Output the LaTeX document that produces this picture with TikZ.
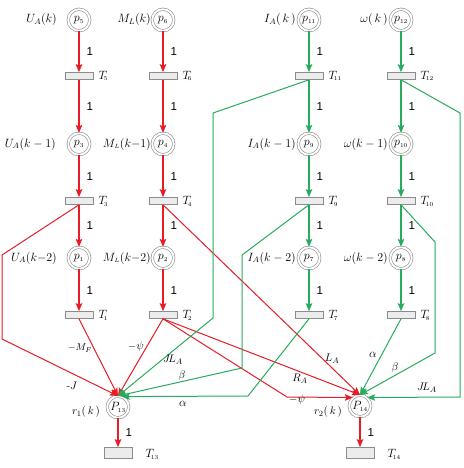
\documentclass[tikz,border=0pt]{standalone}
\usepackage{fontspec}
\newfontfamily\arialf{Liberation Sans}
\usetikzlibrary{arrows.meta,calc}
\definecolor{rd}{RGB}{232,28,36}
\definecolor{gn}{RGB}{38,172,92}
\definecolor{bd}{RGB}{140,140,140}
\begin{document}
\begin{tikzpicture}[x=1pt,y=-1pt,
  place/.style={circle,draw=bd,line width=0.6pt,double=white,double distance=1.9pt,minimum size=21.5pt,inner sep=0pt,font=\fontsize{11.5}{13}\selectfont},
  trans/.style={rectangle,draw=bd,fill=gray!15,line width=0.6pt,minimum width=28pt,minimum height=7pt,inner sep=0pt},
  btrans/.style={trans,minimum height=11pt},
  tip/.style={-{Stealth[length=8pt,width=6.5pt,inset=1.5pt]}},
  rarr/.style={draw=rd,line width=1.3pt,tip},
  garr/.style={draw=gn,line width=1.3pt,tip},
  rln/.style={draw=rd,line width=1pt,tip},
  gln/.style={draw=gn,line width=1pt,tip},
  one/.style={right=7pt,inner sep=0pt,font=\arialf\fontsize{11.5}{13}\selectfont},
  nm/.style={anchor=east,inner sep=0pt,font=\fontsize{11.5}{13}\selectfont},
  tl/.style={anchor=west,inner sep=0pt,font=\fontsize{11.5}{13}\selectfont},
  el/.style={inner sep=0pt,font=\fontsize{11}{13}\selectfont}
]
\useasboundingbox (0,0) rectangle (463,468);
% places
\node[place] (p5) at (79,20) {$p_{\scriptscriptstyle 5}$};
\node[place] (p6) at (163,20) {$p_{\scriptscriptstyle 6}$};
\node[place] (p11) at (309,20) {$p_{\scriptscriptstyle 11}$};
\node[place] (p12) at (401,20) {$p_{\scriptscriptstyle 12}$};
\node[place] (p3) at (79,144) {$p_{\scriptscriptstyle 3}$};
\node[place] (p4) at (163,144) {$p_{\scriptscriptstyle 4}$};
\node[place] (p9) at (309,144) {$p_{\scriptscriptstyle 9}$};
\node[place] (p10) at (401,144) {$p_{\scriptscriptstyle 10}$};
\node[place] (p1) at (79,258) {$p_{\scriptscriptstyle 1}$};
\node[place] (p2) at (163,258) {$p_{\scriptscriptstyle 2}$};
\node[place] (p7) at (309,258) {$p_{\scriptscriptstyle 7}$};
\node[place] (p8) at (401,258) {$p_{\scriptscriptstyle 8}$};
\node[place] (P13) at (118,407) {$P_{\scriptscriptstyle 13}$};
\node[place] (P14) at (360,406) {$P_{\scriptscriptstyle 14}$};
% transitions
\node[trans] (T5) at (79,76) {};
\node[trans] (T6) at (163,76) {};
\node[trans] (T11) at (309,76) {};
\node[trans] (T12) at (401,76) {};
\node[trans] (T3) at (79,201) {};
\node[trans] (T4) at (163,201) {};
\node[trans] (T9) at (309,201) {};
\node[trans] (T10) at (401,201) {};
\node[trans] (T1) at (79,315) {};
\node[trans] (T2) at (163,315) {};
\node[trans] (T7) at (309,315) {};
\node[trans] (T8) at (401,315) {};
\node[btrans] (T13) at (118,453) {};
\node[btrans] (T14) at (360,453) {};
% transition labels
\foreach \t/\s in {T5/5,T6/6,T11/11,T12/12,T3/3,T4/4,T9/9,T10/10,T1/1,T2/2,T7/7,T8/8}
  \node[tl] (l\t) at ($(\t.east)+(5,0)$) {$T_{\!\scriptscriptstyle \s}$};
\node[tl] (lT13) at ($(T13.east)+(13,1)$) {$T_{\!\scriptscriptstyle 13}$};
\node[tl] (lT14) at ($(T14.east)+(13,1)$) {$T_{\!\scriptscriptstyle 14}$};
% place labels
\node[nm] (n5) at (57,20) {$U_A(k)$};
\node[nm] (n6) at (151,20) {$M_L(k)$};
\node[nm] (n11) at (296,20) {$I_A(\,k\,)$};
\node[nm] (n12) at (388,20) {$\omega(\,k\,)$};
\node[nm] (n3) at (56,144) {$U_A(k-1)$};
\node[nm] (n4) at (151,144) {$M_{\scriptscriptstyle L}(k{-}1)$};
\node[nm] (n9) at (296,144) {$I_A(k-1)$};
\node[nm] (n10) at (388,144) {$\omega(k-1)$};
\node[nm] (n1) at (57,258) {$U_A(k{-}2)$};
\node[nm] (n2) at (151,258) {$M_{\scriptscriptstyle L}(k{-}2)$};
\node[nm] (n7) at (296,258) {$I_A(k-2)$};
\node[nm] (n8) at (388,258) {$\omega(k-2)$};
\node[el] (r1) at (86,412) {$r_1(\,k\,)$};
\node[el] (r2) at (328,412) {$r_2(\,k\,)$};
% bend points
\coordinate (c3a) at (2,255);
\coordinate (c3b) at (2,339);
\coordinate (c11a) at (213,113);
\coordinate (c11b) at (213,318);
\coordinate (c9a) at (242,255);
\coordinate (c9b) at (242,368);
\coordinate (c7) at (248,396);
\coordinate (c10a) at (435,242);
\coordinate (c10b) at (435,353);
\coordinate (c12a) at (460,113);
\coordinate (c12b) at (460,397);
\coordinate (c2) at (287,397);
% vertical chains
\foreach \a/\b/\c/\d/\e/\f in {p5/T5/p3/T3/p1/T1,p6/T6/p4/T4/p2/T2}{
  \draw[rarr] (\a) -- node[one]{1} (\b);
  \draw[rarr] (\b) -- node[one]{1} (\c);
  \draw[rarr] (\c) -- node[one]{1} (\d);
  \draw[rarr] (\d) -- node[one]{1} (\e);
  \draw[rarr] (\e) -- node[one]{1} (\f);
}
\foreach \a/\b/\c/\d/\e/\f in {p11/T11/p9/T9/p7/T7,p12/T12/p10/T10/p8/T8}{
  \draw[garr] (\a) -- node[one]{1} (\b);
  \draw[garr] (\b) -- node[one]{1} (\c);
  \draw[garr] (\c) -- node[one]{1} (\d);
  \draw[garr] (\d) -- node[one]{1} (\e);
  \draw[garr] (\e) -- node[one]{1} (\f);
}
\draw[rarr] (P13) -- node[one]{1} (T13);
\draw[rarr] (P14) -- node[one]{1} (T14);
% red arcs to P13 / P14
\draw[rln] (T3.south) -- (c3a) -- (c3b) -- (P13.north);
\draw[rln] (T1.south) -- (P13.north);
\draw[rln] (T2.south) -- (P13.north);
\draw[rln] (T4.south) -- (P14.north);
\draw[rln] (T2.south) -- (P14.north);
\draw[rln] (T2.south) -- (c2) -- (P14.130);
% green arcs
\draw[gln] (T11.south) -- (c11a) -- (c11b) -- (P13.north);
\draw[gln] (T9.south) -- (c9a) -- (c9b) -- (P13.north);
\draw[gln] (T7.south) -- (c7) -- (P13.70);
\draw[gln] (T8.south) -- (P14.north);
\draw[gln] (T10.south) -- (c10a) -- (c10b) -- (P14.north);
\draw[gln] (T12.south) -- (c12a) -- (c12b) -- (P14.50);
% arc labels
\node[el] (lJ) at (72,386) {-$J$};
\node[el,font=\fontsize{10}{12}\selectfont] (lMF) at (80,348) {$-M_F$};
\node[el] (lpsi1) at (136,347) {$-\psi$};
\node[el] (lJLA1) at (173,360) {$J\!L_A$};
\node[el] (lb1) at (182,376) {$\beta$};
\node[el,font=\fontsize{13}{15}\selectfont] (la1) at (183,404) {$\alpha$};
\node[el] (lLA) at (332,359) {$L_A$};
\node[el] (lRA) at (300,379) {$R_A$};
\node[el] (lpsi2) at (297,400) {$-\psi$};
\node[el,font=\fontsize{13}{15}\selectfont] (la2) at (373,355) {$\alpha$};
\node[el] (lb2) at (395,368) {$\beta$};
\node[el] (lJLA2) at (427,388) {$J\!L_A$};
\end{tikzpicture}
\end{document}
